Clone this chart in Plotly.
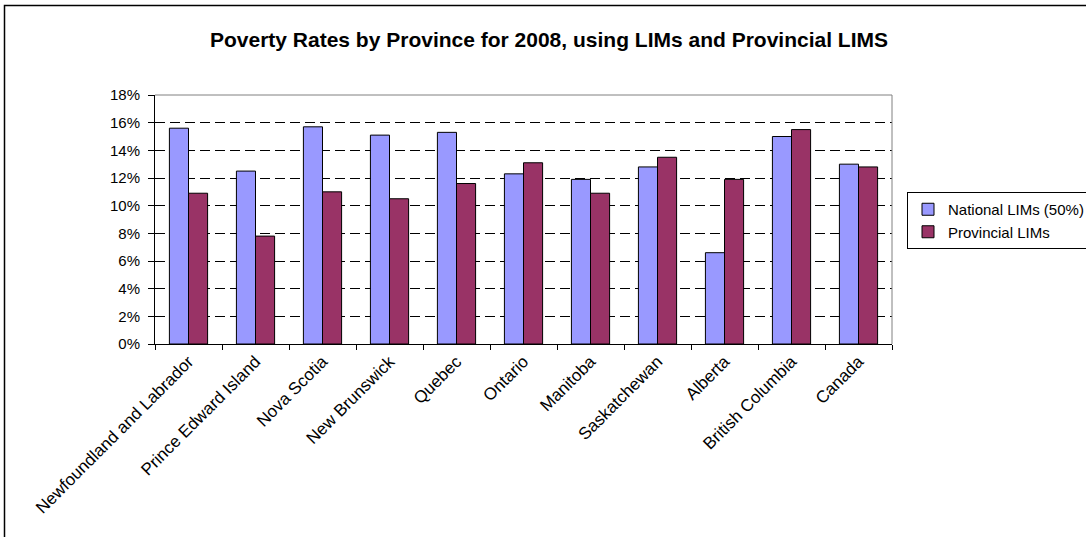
import plotly.graph_objects as go

categories = ["Newfoundland and Labrador", "Prince Edward Island", "Nova Scotia",
              "New Brunswick", "Quebec", "Ontario", "Manitoba", "Saskatchewan",
              "Alberta", "British Columbia", "Canada"]
national_lims = [15.6, 12.5, 15.7, 15.1, 15.3, 12.3, 11.9, 12.8, 6.6, 15.0, 13.0]
provincial_lims = [10.9, 7.8, 11.0, 10.5, 11.6, 13.1, 10.9, 13.5, 11.9, 15.5, 12.8]
y_ticks = [0, 2, 4, 6, 8, 10, 12, 14, 16, 18]
y_tick_labels = [f"{v}%" for v in y_ticks]

FONT = "Liberation Sans, Arial, sans-serif"

W, H = 1086, 537
L, R, T, B = 155, 892, 95, 344  # plot area pixel bounds
pw, ph = R - L, B - T

def px_x(x):
    return (x - L) / pw

def px_y(y):
    return (B - y) / ph

fig = go.Figure()
fig.add_trace(go.Bar(
    x=categories, y=national_lims, name="National LIMs (50%)",
    marker=dict(color="#9999FF", line=dict(color="#000000", width=1)),
))
fig.add_trace(go.Bar(
    x=categories, y=provincial_lims, name="Provincial LIMs",
    marker=dict(color="#993366", line=dict(color="#000000", width=1)),
))

fig.update_layout(
    width=W, height=H, autosize=False,
    margin=dict(l=L, r=W - R, t=T, b=H - B, pad=0),
    paper_bgcolor="white", plot_bgcolor="white",
    font=dict(family=FONT, size=15, color="black"),
    barmode="group", bargap=0.43, bargroupgap=0,
    title=dict(text="<b>Poverty Rates by Province for 2008, using LIMs and Provincial LIMS</b>",
               x=549 / W, xanchor="center", y=1 - 40 / H, yanchor="middle",
               xref="container", yref="container",
               font=dict(family=FONT, size=21, color="black")),
    legend=dict(x=907 / W, xanchor="left", y=1 - 192 / H, yanchor="top",
                xref="container", yref="container",
                bordercolor="black", borderwidth=1, bgcolor="white",
                font=dict(family=FONT, size=15, color="black"),
                tracegroupgap=0, itemwidth=30),
    showlegend=True,
)

fig.update_xaxes(
    type="category", showline=True, linecolor="black", linewidth=1,
    ticks="outside", tickson="boundaries", ticklen=5, tickcolor="black",
    tickangle=-45, showgrid=False,
    tickfont=dict(family=FONT, size=17, color="black"),
)
fig.update_yaxes(
    range=[0, 18], tickvals=y_ticks, ticktext=y_tick_labels,
    showline=True, linecolor="black", linewidth=1,
    ticks="outside", ticklen=6, tickcolor="black", ticklabelstandoff=5,
    showgrid=True, gridcolor="black", gridwidth=1, griddash="10px,5px",
    zeroline=False,
    tickfont=dict(family=FONT, size=15, color="black"),
)

# grey plot-area border on top and right
fig.add_shape(type="path", xref="paper", yref="paper",
              path="M 0 1 L 1 1 L 1 0",
              line=dict(color="#808080", width=1), layer="above")
# outer chart border (only top and left visible in frame)
fig.add_shape(type="rect", xref="paper", yref="paper",
              x0=px_x(4.5), y0=px_y(5.5), x1=px_x(1200), y1=px_y(700),
              line=dict(color="black", width=1.5), layer="above")

fig.write_html("out.html", config={"displayModeBar": False},
               post_script="document.body.style.margin='0';")
